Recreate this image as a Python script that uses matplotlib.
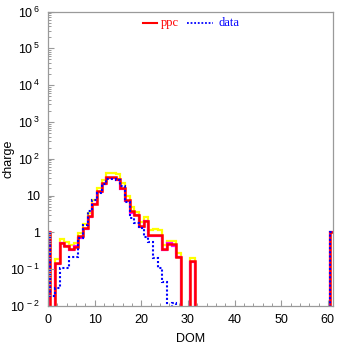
import numpy as np
import matplotlib
matplotlib.use('Agg')
import matplotlib.pyplot as plt
from matplotlib.ticker import FixedLocator, FixedFormatter, MultipleLocator, LogLocator, NullFormatter

plt.rcParams['font.family'] = ['Liberation Sans', 'DejaVu Sans']
plt.rcParams['mathtext.fontset'] = 'custom'
plt.rcParams['mathtext.rm'] = 'Liberation Sans'
plt.rcParams['mathtext.it'] = 'Liberation Sans:italic'

# DOM number 0..61, one bin per DOM
dom = np.arange(62)

# ppc simulation (red), its upper band (yellow) and alternative (magenta)
ppc = [1.0, 0, 0.15, 0.52, 0.44, 0.36, 0.39, 0.78, 1.3, 2.7,
       6.0, 13, 22, 31, 31, 29, 16, 7.5, 3.7, 3.0,
       1.5, 2.0, 0.85, 0.85, 0.85, 0.36, 0.48, 0.47, 0.22, 0,
       0, 0.17] + [0] * 29 + [1.0]
ppc_hi = [1.0, 0, 0.19, 0.65, 0.55, 0.46, 0.50, 0.97, 1.7, 3.3,
          7.5, 16, 27, 42, 40, 39, 22, 10, 5.0, 3.6,
          1.9, 2.6, 1.15, 1.25, 1.15, 0.46, 0.60, 0.58, 0.28, 0,
          0, 0.20] + [0] * 29 + [1.0]
ppc_alt = [1.0, 0, 0.14, 0.50, 0.42, 0.33, 0.43, 0.72, 1.25, 2.6,
           5.8, 12.5, 21, 30, 30, 27, 15, 7.2, 3.4, 2.9,
           1.4, 2.1, 0.82, 0.80, 0.80, 0.34, 0.50, 0.43, 0.21, 0,
           0, 0.16] + [0] * 29 + [1.0]
# measured data (blue dotted)
data = [1.0, 0.019, 0.03, 0.11, 0.11, 0.21, 0.21, 0.72, 1.6, 3.8,
        7.8, 12, 21, 28, 28, 27, 18, 6.5, 2.4, 1.8,
        1.3, 0.75, 0.55, 0.20, 0.11, 0.045, 0, 0.012, 0, 0] + [0] * 31 + [1.0]

ytick_vals = [1e-2, 1e-1, 1, 10, 1e2, 1e3, 1e4, 1e5, 1e6]
ytick_labels = [r'$\mathregular{10^{\,-2}}$', r'$\mathregular{10^{\,-1}}$', '1', '10',
                r'$\mathregular{10^{\,2}}$', r'$\mathregular{10^{\,3}}$',
                r'$\mathregular{10^{\,4}}$', r'$\mathregular{10^{\,5}}$',
                r'$\mathregular{10^{\,6}}$']

edges = np.append(dom - 0.5, dom[-1] + 0.5)


def clipped(vals):
    # zero bins drop below the log axis
    return np.clip(np.asarray(vals, dtype=float), 1e-6, None)


fig = plt.figure(figsize=(3.37, 3.44), dpi=100)
ax = fig.add_axes([48 / 337, 38 / 344, 284.5 / 337, 294.5 / 344])

ax.stairs(clipped(ppc_hi), edges, baseline=None, color='#ffff00', lw=1.6)
ax.stairs(clipped(ppc_alt), edges, baseline=None, color='#ff00ff', lw=1.6)
ax.stairs(clipped(ppc), edges, baseline=None, color='#ff0000', lw=1.8)
ax.stairs(clipped(data), edges, baseline=None, color='#0000ff', lw=1.5,
          linestyle=(0, (1, 1)))

ax.set_yscale('log')
ax.set_xlim(0, 61)
ax.set_ylim(1e-2, 1e6)

ax.yaxis.set_major_locator(FixedLocator(ytick_vals))
ax.yaxis.set_major_formatter(FixedFormatter(ytick_labels))
ax.yaxis.set_minor_locator(LogLocator(base=10, subs=np.arange(2, 10)))
ax.yaxis.set_minor_formatter(NullFormatter())
ax.xaxis.set_major_locator(MultipleLocator(10))
ax.xaxis.set_minor_locator(MultipleLocator(2))

gray = '#9a9a9a'
for s in ax.spines.values():
    s.set_color(gray)
    s.set_linewidth(0.9)
ax.tick_params(which='both', direction='in', color=gray, labelsize=9,
               top=False, right=False)
ax.tick_params(which='major', length=4, width=0.8)
ax.tick_params(which='minor', length=2.2, width=0.7)
ax.tick_params(axis='y', pad=6)
ax.tick_params(axis='x', pad=6)

ax.set_xlabel('DOM', fontsize=9)
ax.set_ylabel('charge', fontsize=9)
ax.xaxis.set_label_coords(0.5, -27 / 294.5)
ax.yaxis.set_label_coords(-33 / 284.5, 0.5)

# legend drawn at the top of the frame
ax.plot([0.334, 0.383], [0.962, 0.962], transform=ax.transAxes,
        color='#ff0000', lw=1.5, clip_on=False)
ax.text(0.397, 0.962, 'ppc', transform=ax.transAxes, color='#ff0000',
        family='Liberation Serif', fontsize=9, va='center')
ax.plot([0.489, 0.580], [0.962, 0.962], transform=ax.transAxes,
        color='#0000ff', lw=1.3, linestyle=(0, (1, 1)), clip_on=False)
ax.text(0.601, 0.962, 'data', transform=ax.transAxes, color='#0000ff',
        family='Liberation Serif', fontsize=9, va='center')

fig.savefig('out.png', dpi=100)
